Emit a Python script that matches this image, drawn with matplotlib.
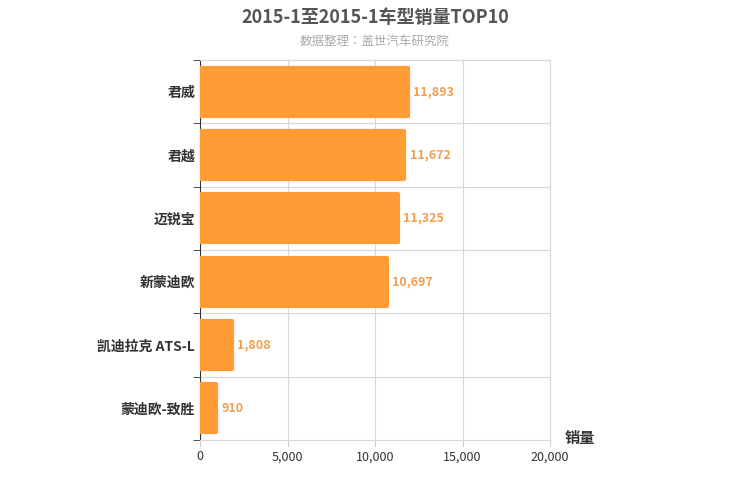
import matplotlib.pyplot as plt
import numpy as np

plt.rcParams["font.family"] = ["Noto Sans CJK SC", "Noto Sans CJK JP",
                               "Noto Sans CJK TC", "Noto Sans CJK KR", "DejaVu Sans"]

models = ["君威", "君越", "迈锐宝", "新蒙迪欧", "凯迪拉克 ATS-L", "蒙迪欧-致胜"]
sales = [11893, 11672, 11325, 10697, 1808, 910]
xticks = [0, 5000, 10000, 15000, 20000]

fig = plt.figure(figsize=(7.5, 5), dpi=100)
ax = fig.add_axes([200 / 750, 60 / 500, 350 / 750, 380 / 500])

y = np.arange(len(models))
ax.barh(y, sales, height=0.76, color="#ff9c35", edgecolor="#ff9c35",
        linewidth=3, joinstyle="round", zorder=3)
for yi, v in zip(y, sales):
    ax.text(v + 300, yi, f"{v:,}", va="center", ha="left",
            fontsize=9, color="#f0a050", fontweight="bold")

ax.set_xlim(0, 20000)
ax.set_ylim(len(models) - 0.5, -0.5)
ax.set_xticks(xticks)
ax.set_xticklabels([f"{t:,}" for t in xticks], fontsize=9, color="#333333")
ax.set_yticks(y)
ax.set_yticklabels(models, fontsize=10, fontweight="bold", color="#333333")
ax.set_yticks(np.arange(-0.5, len(models)), minor=True)
ax.tick_params(axis="y", which="major", length=0)
ax.tick_params(axis="y", which="minor", length=5, color="#333333")
ax.tick_params(axis="x", length=4, color="#cccccc")
ax.grid(True, axis="x", color="#d8d8d8", linewidth=0.8, zorder=0)
ax.grid(True, axis="y", which="minor", color="#d8d8d8", linewidth=0.8, zorder=0)
for s in ["top", "right", "bottom"]:
    ax.spines[s].set_color("#d8d8d8")
ax.spines["left"].set_color("#333333")

fig.text(0.5, 0.965, "2015-1至2015-1车型销量TOP10", ha="center", va="center",
         fontsize=13, fontweight="bold", color="#555555")
fig.text(0.5, 0.918, "数据整理：盖世汽车研究院", ha="center", va="center",
         fontsize=9, color="#aaaaaa")
fig.text(565 / 750, 1 - 438 / 500, "销量", ha="left", va="center",
         fontsize=11, fontweight="bold", color="#333333")

fig.savefig("out.png", dpi=100)
